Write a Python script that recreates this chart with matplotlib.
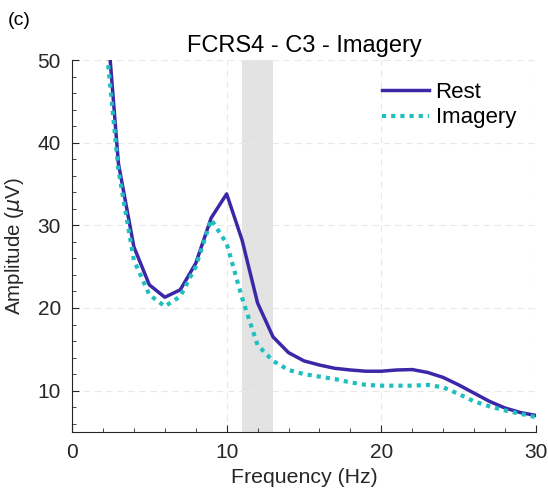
import numpy as np
import matplotlib
matplotlib.use('Agg')
import matplotlib.pyplot as plt
from matplotlib.ticker import MultipleLocator

plt.rcParams['font.family'] = ['Liberation Sans', 'DejaVu Sans']
plt.rcParams['mathtext.fontset'] = 'dejavusans'

# frequency (Hz) and amplitude (uV) for both conditions
freq = np.arange(2, 31)
rest = [61, 37.5, 27.4, 22.8, 21.3, 22.2, 25.4, 30.9, 33.8, 28.2, 20.6, 16.5,
        14.6, 13.6, 13.1, 12.7, 12.5, 12.35, 12.35, 12.5, 12.55, 12.2, 11.6,
        10.7, 9.7, 8.7, 7.9, 7.35, 7.0]
imagery = [56, 36.7, 25.8, 21.6, 20.2, 21.4, 25.0, 30.7, 27.8, 21.2, 15.5, 13.6,
           12.5, 12.0, 11.7, 11.4, 11.0, 10.7, 10.6, 10.6, 10.6, 10.7, 10.4,
           9.6, 8.7, 8.1, 7.6, 7.2, 6.8]
band = (11, 13)

txt = '#262626'
fig = plt.figure(figsize=(5.48, 4.92), dpi=100)
ax = fig.add_axes([0.1314, 0.122, 0.8466, 0.756])

ax.axvspan(band[0], band[1], color='#e3e3e3', lw=0, zorder=0)
ax.plot(freq, rest, color='#3b28a8', lw=2.5, label='Rest', zorder=3)
ax.plot(freq, imagery, color='#1fbfbf', lw=3.0, ls=(0, (1, 1.2)), label='Imagery', zorder=3)

ax.set_xlim(0, 30)
ax.set_ylim(5, 50)
ax.xaxis.set_major_locator(MultipleLocator(10))
ax.xaxis.set_minor_locator(MultipleLocator(2))
ax.yaxis.set_major_locator(MultipleLocator(10))
ax.yaxis.set_minor_locator(MultipleLocator(2))
ax.grid(True, which='major', ls=(0, (6, 4)), color='#e8e8e8', lw=0.8, zorder=1)
ax.set_axisbelow(True)

for s in ['top', 'right']:
    ax.spines[s].set_visible(False)
for s in ['left', 'bottom']:
    ax.spines[s].set_color('#262626')
    ax.spines[s].set_linewidth(0.8)
ax.tick_params(which='both', direction='in', colors=txt, labelsize=15, pad=8)
ax.tick_params(which='major', length=5)
ax.tick_params(which='minor', length=3)

ax.set_xlabel('Frequency (Hz)', fontsize=15.3, color=txt, labelpad=4)
ax.set_ylabel(r'Amplitude ($\mu$V)', fontsize=14.8, color=txt, labelpad=8)
ax.set_title('FCRS4 - C3 - Imagery', fontsize=17, color='black', pad=6)
fig.text(0.015, 0.95, '(c)', fontsize=14, color='black')

leg = ax.legend(loc='upper right', frameon=False, fontsize=16, handlelength=2.1,
                handletextpad=0.3, labelspacing=0.2, bbox_to_anchor=(1.0, 0.995))
for t in leg.get_texts():
    t.set_color('black')

fig.savefig('out.png', dpi=100)
